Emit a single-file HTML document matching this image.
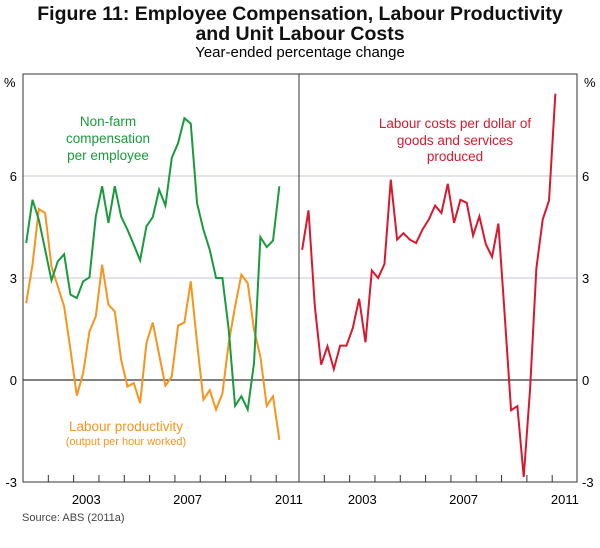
<!DOCTYPE html>
<html><head><meta charset="utf-8">
<style>
body{margin:0;background:#fff;}
svg{display:block;font-family:"Liberation Sans",Arial,sans-serif;}
</style></head>
<body>
<svg width="600" height="548" viewBox="0 0 600 548">
<text x="300" y="20" text-anchor="middle" font-size="19.5" font-weight="bold" fill="#111">Figure 11: Employee Compensation, Labour Productivity</text>
<text x="300" y="40" text-anchor="middle" font-size="19.5" font-weight="bold" fill="#111">and Unit Labour Costs</text>
<text x="300" y="57" text-anchor="middle" font-size="15" fill="#000">Year-ended percentage change</text>
<g id="grid"></g>
<g id="axes"></g>
<g id="series"></g>
<text x="108" y="126" text-anchor="middle" font-size="13.5" fill="#1a9a3c">Non-farm</text>
<text x="108" y="143" text-anchor="middle" font-size="13.5" fill="#1a9a3c">compensation</text>
<text x="108" y="160" text-anchor="middle" font-size="13.5" fill="#1a9a3c">per employee</text>
<text x="126" y="431" text-anchor="middle" font-size="13.5" fill="#f7941d">Labour productivity</text>
<text x="126" y="445" text-anchor="middle" font-size="11" fill="#f7941d">(output per hour worked)</text>
<text x="455" y="128" text-anchor="middle" font-size="13.5" fill="#d7192f">Labour costs per dollar of</text>
<text x="455" y="145" text-anchor="middle" font-size="13.5" fill="#d7192f">goods and services</text>
<text x="455" y="161" text-anchor="middle" font-size="13.5" fill="#d7192f">produced</text>
<text x="22" y="521" font-size="11" fill="#444">Source:  ABS (2011a)</text>
</svg>
<script>
const yTicks = [-3, 0, 3, 6];
const yearLabels = ["2003", "2007", "2011"];
const yearLabelQuarters = [10, 26, 42];
const compensation = [4.03,5.3,4.71,3.83,2.93,3.49,3.7,2.51,2.41,2.9,3.02,4.81,5.7,4.62,5.7,4.81,4.42,3.98,3.52,4.52,4.79,5.6,5.13,6.53,6.97,7.7,7.54,5.2,4.42,3.83,3.0,3.0,1.48,-0.76,-0.48,-0.87,0.5,4.2,3.91,4.1,5.7];
const productivity = [2.26,3.39,5.03,4.91,3.34,2.75,2.16,0.89,-0.46,0.2,1.43,1.87,3.39,2.21,2.02,0.6,-0.19,-0.09,-0.68,1.09,1.69,0.75,-0.17,0.1,1.6,1.69,2.9,1.09,-0.58,-0.3,-0.87,-0.4,1.09,2.16,3.1,2.85,1.48,0.69,-0.76,-0.48,-1.76];
const labourCosts = [3.83,4.99,2.17,0.45,0.99,0.32,1.01,1.01,1.53,2.39,1.11,3.22,3.0,3.41,5.89,4.13,4.32,4.13,4.03,4.42,4.72,5.13,4.91,5.77,4.62,5.3,5.21,4.25,4.81,4.0,3.62,4.6,1.9,-0.89,-0.77,-2.85,-0.28,3.29,4.72,5.28,8.42];

const NS="http://www.w3.org/2000/svg";
const TOP=74, BOT=482, YMIN=-3, YMAX=9, QW=6.33;
const panels=[{l:23,r:299},{l:299,r:577}];
function y(v){return BOT-(v-YMIN)/(YMAX-YMIN)*(BOT-TOP);}
function x(p,q){return panels[p].l+q*QW;}
function mk(tag,attrs,parent){const e=document.createElementNS(NS,tag);for(const k in attrs)e.setAttribute(k,attrs[k]);parent.appendChild(e);return e;}
const grid=document.getElementById('grid'), axes=document.getElementById('axes'), series=document.getElementById('series');

yTicks.forEach(v=>{
  if(v===3||v===6){
    const g=mk('line',{x1:23,x2:577,y1:y(v),y2:y(v),stroke:'#c4c4d0','stroke-width':1},grid);
    
    
  }
  const tl=mk('text',{x:17,y:y(v)+5,'text-anchor':'end','font-size':13,fill:'#000'},axes);
  tl.textContent=v;
  
  
  const tr=mk('text',{x:582,y:y(v)+5,'font-size':13,fill:'#000'},axes);
  tr.textContent=v;
  
  
});
const zl=mk('line',{x1:23,x2:577,y1:y(0),y2:y(0),stroke:'#000','stroke-width':1},grid);


const pl=mk('text',{x:4,y:87,'font-size':13},axes);pl.textContent='%';


const pr=mk('text',{x:584,y:87,'font-size':13},axes);pr.textContent='%';



panels.forEach((p,pi)=>{
  const fr=mk('rect',{x:p.l,y:TOP,width:p.r-p.l,height:BOT-TOP,fill:'none',stroke:'#333','stroke-width':1},axes);
  
  
  for(let q=4;q<=40;q+=4){
    const t=mk('line',{x1:x(pi,q),x2:x(pi,q),y1:BOT,y2:BOT-7,stroke:'#333','stroke-width':1},axes);
    
    
  }
  yearLabels.forEach((lab,i)=>{
    const t=mk('text',{x:x(pi,yearLabelQuarters[i]),y:504,'text-anchor':'middle','font-size':13},axes);
    t.textContent=lab;
    
    
  });
});

function line(data,p,color,name){
  const pts=data.map((v,i)=>x(p,i+0.5).toFixed(2)+','+y(v).toFixed(2)).join(' ');
  const e=mk('polyline',{points:pts,fill:'none',stroke:color,'stroke-width':2,'stroke-linejoin':'miter'},series);
  
  
}
line(productivity,0,'#f7941d','productivity-line');
line(compensation,0,'#1a9a3c','compensation-line');
line(labourCosts,1,'#d7192f','labour-costs-line');
</script>
</body></html>
